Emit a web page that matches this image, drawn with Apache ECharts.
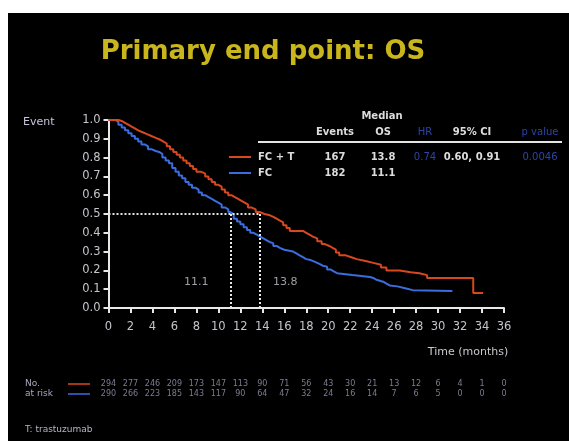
<!DOCTYPE html>
<html>
<head>
<meta charset="utf-8">
<script src="https://cdn.jsdelivr.net/npm/echarts@6/dist/echarts.min.js"></script>
<style>
  html, body { margin: 0; padding: 0; background: #fff; }
  #chart { width: 569px; height: 441px; }
</style>
</head>
<body>
<div id="chart"></div>
<script>
// KM curves: [month, survival] step points
const fcT = [
  [0, 1.0], [0.9, 0.995], [1.2, 0.985], [1.5, 0.975], [1.8, 0.965], [2.1, 0.955],
  [2.4, 0.945], [2.7, 0.935], [3.1, 0.925], [3.5, 0.915], [3.9, 0.905], [4.3, 0.895],
  [4.7, 0.885], [5.0, 0.875], [5.3, 0.86], [5.6, 0.845], [5.9, 0.83], [6.2, 0.815],
  [6.5, 0.80], [6.8, 0.785], [7.1, 0.77], [7.4, 0.755], [7.7, 0.74], [8.0, 0.725],
  [8.4, 0.715], [8.8, 0.70], [9.1, 0.685], [9.4, 0.67], [9.7, 0.655], [10.0, 0.645],
  [10.3, 0.63], [10.6, 0.615], [10.9, 0.60], [11.2, 0.59], [11.5, 0.58], [11.8, 0.57],
  [12.1, 0.56], [12.4, 0.55], [12.7, 0.535], [13.0, 0.525], [13.4, 0.51], [13.8, 0.50],
  [14.2, 0.495], [14.6, 0.485], [15.0, 0.475], [15.3, 0.465], [15.6, 0.455], [15.9, 0.44],
  [16.2, 0.425], [16.5, 0.41], [17.7, 0.40], [18.0, 0.39], [18.3, 0.38], [18.6, 0.37],
  [19.0, 0.355], [19.4, 0.34], [19.7, 0.33], [20.1, 0.32], [20.4, 0.31], [20.7, 0.295],
  [21.0, 0.28], [21.6, 0.27], [22.1, 0.26], [22.6, 0.25], [23.4, 0.24], [24.1, 0.23],
  [24.8, 0.215], [25.3, 0.20], [26.5, 0.19], [27.5, 0.185], [28.3, 0.175], [29.0, 0.16],
  [33.2, 0.08], [34.1, 0.08]
];
const fc = [
  [0, 1.0], [0.6, 0.99], [0.9, 0.975], [1.2, 0.96], [1.5, 0.945], [1.8, 0.93],
  [2.1, 0.915], [2.4, 0.90], [2.7, 0.885], [3.0, 0.87], [3.3, 0.86], [3.6, 0.845],
  [3.9, 0.835], [4.3, 0.83], [4.6, 0.82], [4.9, 0.80], [5.2, 0.785], [5.5, 0.77],
  [5.8, 0.745], [6.1, 0.725], [6.4, 0.705], [6.7, 0.69], [7.0, 0.67], [7.3, 0.655],
  [7.6, 0.64], [7.9, 0.63], [8.2, 0.615], [8.5, 0.60], [8.8, 0.59], [9.1, 0.58],
  [9.4, 0.57], [9.7, 0.56], [10.0, 0.55], [10.3, 0.535], [10.6, 0.525], [10.9, 0.51],
  [11.1, 0.50], [11.4, 0.475], [11.7, 0.46], [12.0, 0.445], [12.3, 0.43], [12.6, 0.415],
  [12.9, 0.40], [13.2, 0.39], [13.5, 0.38], [13.8, 0.37], [14.1, 0.36], [14.4, 0.35],
  [14.7, 0.345], [15.0, 0.33], [15.3, 0.32], [15.6, 0.31], [16.0, 0.30], [16.8, 0.29],
  [17.1, 0.28], [17.4, 0.27], [17.7, 0.26], [18.0, 0.255], [18.4, 0.245], [18.8, 0.235],
  [19.2, 0.225], [19.5, 0.22], [19.9, 0.205], [20.2, 0.195], [20.5, 0.185], [20.8, 0.175],
  [22.2, 0.165], [23.8, 0.16], [24.1, 0.15], [24.4, 0.14], [25.0, 0.13], [25.3, 0.12],
  [25.6, 0.115], [26.3, 0.105], [27.0, 0.095], [27.7, 0.09], [31.3, 0.09]
];

const arms = ['FC + T', 'FC'];
const events = ['167', '182'];
const medianOS = [13.8, 11.1];
const hrText = ['0.74', ''];
const ciText = ['0.60, 0.91', ''];
const pText = ['0.0046', ''];

const riskTimes = [0, 2, 4, 6, 8, 10, 12, 14, 16, 18, 20, 22, 24, 26, 28, 30, 32, 34, 36];
const riskFcT = [294, 277, 246, 209, 173, 147, 113, 90, 71, 56, 43, 30, 21, 13, 12, 6, 4, 1, 0];
const riskFc = [290, 266, 223, 185, 143, 117, 90, 64, 47, 32, 24, 16, 14, 7, 6, 5, 0, 0, 0];

const RED = '#d8481f';
const BLUE = '#3b6de0';
const TXT = '#dcdcdc';
const DARKBLUE = '#2c44a8';
const FONT = 'DejaVu Sans, sans-serif';

const chart = echarts.init(document.getElementById('chart'));

function txt(x, y, s, opt) {
  return {
    type: 'text', x: x, y: y, z: 10,
    style: Object.assign({
      text: s, fill: TXT, font: 'bold 10px ' + FONT,
      textAlign: 'center', textVerticalAlign: 'middle'
    }, opt || {})
  };
}

// table next to the curves
const tableCols = [335, 383, 425, 472, 540];
const rowsY = [157, 173];
const graphics = [
  { type: 'rect', shape: { x: 0, y: 0, width: 569, height: 13 }, style: { fill: '#fff' } },
  { type: 'rect', shape: { x: 0, y: 0, width: 8, height: 441 }, style: { fill: '#fff' } },
  txt(263, 52, 'Primary end point: OS', { fill: '#c9b61c', font: 'bold 26px ' + FONT }),
  txt(23, 122, 'Event', { textAlign: 'left', fill: '#c4c4dc', font: '11px ' + FONT }),
  txt(468, 352, 'Time (months)', { fill: '#c8c8d0', font: '11px ' + FONT }),
  txt(382, 116, 'Median'),
  txt(tableCols[0], 132, 'Events'),
  txt(tableCols[1], 132, 'OS'),
  txt(tableCols[2], 132, 'HR', { fill: DARKBLUE, font: '10px ' + FONT }),
  txt(tableCols[3], 132, '95% CI'),
  txt(tableCols[4], 132, 'p value', { fill: DARKBLUE, font: '10px ' + FONT }),
  { type: 'line', shape: { x1: 258, y1: 142, x2: 562, y2: 142 }, style: { stroke: '#e4e4e4', lineWidth: 2 } },
  txt(25, 384, 'No.', { textAlign: 'left', fill: '#a8a8c0', font: '9px ' + FONT }),
  txt(25, 394, 'at risk', { textAlign: 'left', fill: '#a8a8c0', font: '9px ' + FONT }),
  { type: 'line', shape: { x1: 68, y1: 384, x2: 90, y2: 384 }, style: { stroke: RED, lineWidth: 1.5 } },
  { type: 'line', shape: { x1: 68, y1: 394, x2: 90, y2: 394 }, style: { stroke: BLUE, lineWidth: 1.5 } },
  txt(25, 430, 'T: trastuzumab', { textAlign: 'left', fill: '#b4b4c4', font: '9px ' + FONT })
];
arms.forEach(function (name, i) {
  const y = rowsY[i];
  graphics.push({ type: 'line', shape: { x1: 229, y1: y, x2: 251, y2: y },
    style: { stroke: i === 0 ? RED : BLUE, lineWidth: 2 } });
  graphics.push(txt(258, y, name, { textAlign: 'left' }));
  graphics.push(txt(tableCols[0], y, events[i]));
  graphics.push(txt(tableCols[1], y, medianOS[i].toFixed(1)));
  graphics.push(txt(tableCols[2], y, hrText[i], { fill: DARKBLUE, font: '10px ' + FONT }));
  graphics.push(txt(tableCols[3], y, ciText[i]));
  graphics.push(txt(tableCols[4], y, pText[i], { fill: DARKBLUE, font: '10px ' + FONT }));
});

const medT = medianOS[0], medC = medianOS[1];

const riskData = [];
riskTimes.forEach(function (t, i) {
  riskData.push({ value: [t, 0, riskFcT[i]] });
  riskData.push({ value: [t, 1, riskFc[i]] });
});

const option = {
  backgroundColor: '#000',
  animation: false,
  graphic: graphics,
  grid: [
    { left: 108.5, right: 65, top: 120, bottom: 133 },
    { left: 108.5, right: 65, top: 379, height: 20 }
  ],
  xAxis: [
    {
      type: 'value', min: 0, max: 36, interval: 2,
      axisLine: { lineStyle: { color: '#e8e8e8', width: 2 } },
      axisTick: { length: 5, lineStyle: { color: '#e8e8e8', width: 2 } },
      axisLabel: { color: '#c4c4cc', fontSize: 11.5, fontFamily: FONT, margin: 13 },
      splitLine: { show: false }
    },
    { type: 'value', gridIndex: 1, min: 0, max: 36, show: false }
  ],
  yAxis: [
    {
      type: 'value', min: 0, max: 1, interval: 0.1,
      axisLine: { show: true, lineStyle: { color: '#e8e8e8', width: 2 } },
      axisTick: { show: true, length: 5, lineStyle: { color: '#e8e8e8', width: 2 } },
      axisLabel: { color: '#c4c4cc', fontSize: 11.5, fontFamily: FONT, margin: 8,
        formatter: function (v) { return v.toFixed(1); } },
      splitLine: { show: false }
    },
    { type: 'category', gridIndex: 1, data: ['FC + T', 'FC'], inverse: true, show: false }
  ],
  series: [
    {
      name: 'FC', type: 'line', step: 'end', data: fc, symbol: 'none',
      lineStyle: { color: BLUE, width: 2 }, z: 3
    },
    {
      name: 'FC + T', type: 'line', step: 'end', data: fcT, symbol: 'none',
      lineStyle: { color: RED, width: 2 }, z: 4,
      markLine: {
        silent: true, symbol: 'none', label: { show: false },
        lineStyle: { color: '#e6e6e6', type: 'dotted', width: 2 },
        data: [
          [{ coord: [0, 0.5] }, { coord: [medT, 0.5] }],
          [{ coord: [medC, 0] }, { coord: [medC, 0.5] }],
          [{ coord: [medT, 0] }, { coord: [medT, 0.5] }]
        ]
      }
    },
    {
      type: 'scatter', symbolSize: 0, silent: true,
      data: [
        { value: [medC, 0.135], label: { position: 'left', distance: 22 } },
        { value: [medT, 0.135], label: { position: 'right', distance: 13 } }
      ],
      label: { show: true, color: '#c4c4cc', fontSize: 11, fontFamily: FONT,
        formatter: function (p) { return p.value[0].toFixed(1); } }
    },
    {
      type: 'scatter', xAxisIndex: 1, yAxisIndex: 1, symbolSize: 0, silent: true,
      data: riskData,
      label: { show: true, position: 'inside', color: '#9a9ab6', fontSize: 8, fontFamily: FONT,
        formatter: function (p) { return String(p.value[2]); } }
    }
  ]
};
chart.setOption(option);
</script>
</body>
</html>
